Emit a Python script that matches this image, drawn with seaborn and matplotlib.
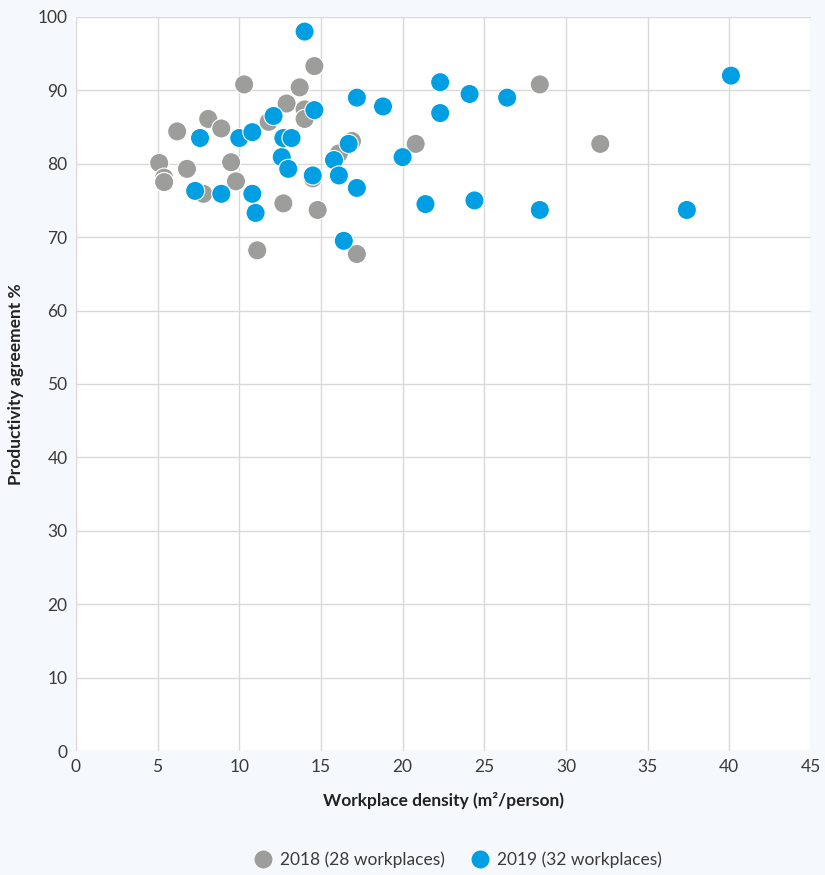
import numpy as np
import pandas as pd
import matplotlib
matplotlib.use("Agg")
import matplotlib.pyplot as plt
import seaborn as sns

# 2018 survey (28 workplaces)
density_2018 = [5.1, 5.4, 5.4, 6.2, 6.8, 7.8, 8.1, 8.9, 9.5, 9.8, 10.3, 11.1,
                11.8, 12.7, 12.9, 13.7, 14.0, 14.0, 14.6, 14.5, 14.8, 16.1,
                16.9, 17.2, 20.8, 28.4, 32.1, 5.4]
agree_2018 = [80.1, 78.1, 77.5, 84.4, 79.3, 75.9, 86.1, 84.8, 80.2, 77.6, 90.8, 68.2,
              85.7, 74.6, 88.2, 90.4, 87.4, 86.1, 93.3, 78.0, 73.7, 81.4,
              83.1, 67.7, 82.7, 90.8, 82.7, 77.5]

# 2019 survey (32 workplaces)
density_2019 = [14.0, 7.6, 7.3, 8.9, 10.0, 10.8, 10.8, 11.0, 12.1, 12.6, 12.7,
                13.2, 13.0, 14.6, 14.5, 15.8, 16.1, 16.4, 16.7, 17.2, 17.2,
                18.8, 20.0, 21.4, 22.3, 22.3, 24.1, 24.4, 26.4, 28.4, 37.4, 40.1]
agree_2019 = [98.0, 83.5, 76.3, 75.9, 83.5, 84.3, 75.9, 73.3, 86.5, 80.9, 83.5,
              83.5, 79.3, 87.3, 78.4, 80.5, 78.4, 69.5, 82.7, 89.0, 76.7,
              87.8, 80.9, 74.5, 91.1, 86.9, 89.5, 75.0, 89.0, 73.7, 73.7, 92.0]

labels = ["2018 (28 workplaces)", "2019 (32 workplaces)"]
colors = ["#9d9d9c", "#009fe3"]

df = pd.concat([
    pd.DataFrame({"density": density_2018, "agree": agree_2018, "year": labels[0]}),
    pd.DataFrame({"density": density_2019, "agree": agree_2019, "year": labels[1]}),
])

sns.set_style("white")
plt.rcParams["font.family"] = ["Lato", "DejaVu Sans"]

fig = plt.figure(figsize=(8.25, 8.75), dpi=100, facecolor="#f5f9fe")
ax = fig.add_axes([0.092, 0.1417, 0.891, 0.839])
ax.set_facecolor("white")

sns.scatterplot(data=df, x="density", y="agree", hue="year", hue_order=labels,
                palette=colors, s=190, edgecolor="white", linewidth=0.8,
                ax=ax, zorder=3, clip_on=False)

ax.set_xlim(0, 45)
ax.set_ylim(0, 100)
ax.set_xticks(np.arange(0, 46, 5))
ax.set_yticks(np.arange(0, 101, 10))
ax.grid(True, color="#d9d9d9", linewidth=1)
for sp in ax.spines.values():
    sp.set_visible(False)
ax.tick_params(length=0, labelsize=12.5, labelcolor="#3a3a3a", pad=6)

ax.set_xlabel("Workplace density (m²/person)", fontsize=12.5, fontweight="bold",
              color="#222222", labelpad=12)
ax.set_ylabel("Productivity agreement %", fontsize=12.5, fontweight="bold",
              color="#222222", labelpad=10)

handles, _ = ax.get_legend_handles_labels()
ax.get_legend().remove()
leg = fig.legend(handles, labels, loc="center", bbox_to_anchor=(0.55, 0.017),
                 ncol=2, frameon=False, fontsize=12.5, handletextpad=0.0,
                 columnspacing=1.0, markerscale=1.0)
for t in leg.get_texts():
    t.set_color("#3a3a3a")

fig.savefig("out.png", dpi=100, facecolor=fig.get_facecolor())
